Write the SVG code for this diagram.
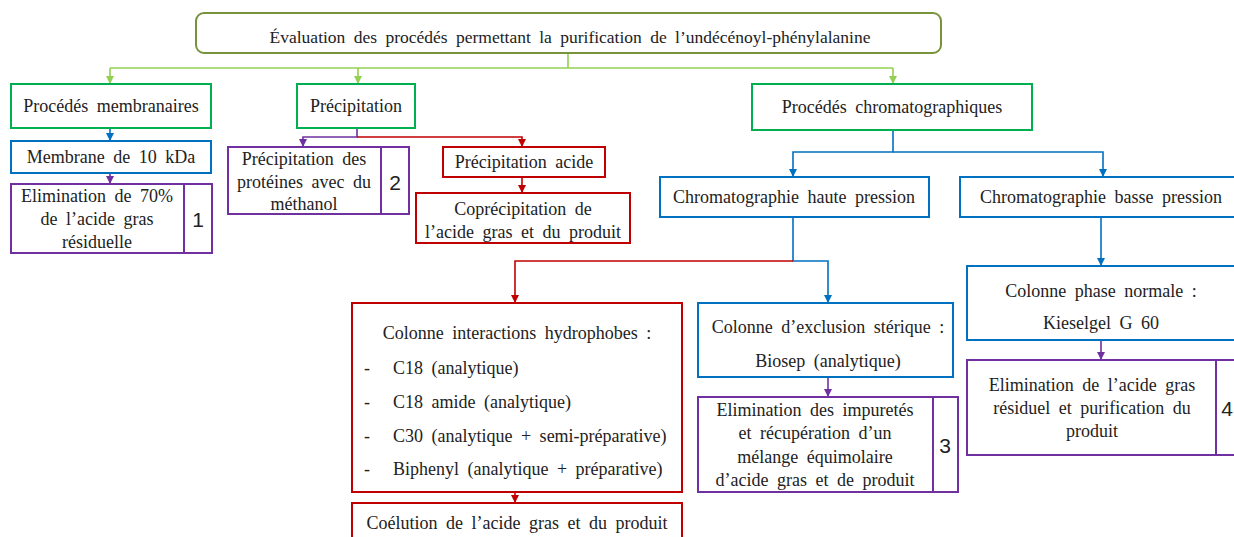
<svg xmlns="http://www.w3.org/2000/svg" width="1234" height="537" viewBox="0 0 1234 537">
<style>
text{font-family:"Liberation Serif","Times New Roman",serif;font-size:18px;fill:#222;word-spacing:4px}
.c{text-anchor:middle}
.t{font-size:17.5px;word-spacing:4px}
.num{font-family:"Liberation Sans",Arial,sans-serif;font-size:21px;text-anchor:middle}
.box{fill:#fff;stroke-width:2}
.g{stroke:#00B050}.b{stroke:#0070C0}.p{stroke:#7030A0}.r{stroke:#C00000}
.ln{fill:none;stroke-width:1.6}
</style>
<defs>
<marker id="aLg" viewBox="0 0 10 10" refX="10" refY="5" markerWidth="8" markerHeight="8" markerUnits="userSpaceOnUse" orient="auto"><path d="M0,0L10,5L0,10z" fill="#92D050"/></marker>
<marker id="aB" viewBox="0 0 10 10" refX="10" refY="5" markerWidth="8" markerHeight="8" markerUnits="userSpaceOnUse" orient="auto"><path d="M0,0L10,5L0,10z" fill="#0070C0"/></marker>
<marker id="aP" viewBox="0 0 10 10" refX="10" refY="5" markerWidth="8" markerHeight="8" markerUnits="userSpaceOnUse" orient="auto"><path d="M0,0L10,5L0,10z" fill="#7030A0"/></marker>
<marker id="aR" viewBox="0 0 10 10" refX="10" refY="5" markerWidth="8" markerHeight="8" markerUnits="userSpaceOnUse" orient="auto"><path d="M0,0L10,5L0,10z" fill="#C00000"/></marker>
</defs>
<rect width="1234" height="537" fill="#fff"/>

<g id="connectors">
<path class="ln" stroke="#92D050" d="M568,53V68"/>
<path class="ln" stroke="#92D050" d="M110,68H893"/>
<path class="ln" stroke="#92D050" d="M110,68V84" marker-end="url(#aLg)"/>
<path class="ln" stroke="#92D050" d="M358,68V84" marker-end="url(#aLg)"/>
<path class="ln" stroke="#92D050" d="M893,68V84" marker-end="url(#aLg)"/>
<path class="ln" stroke="#0070C0" d="M110,128V141" marker-end="url(#aB)"/>
<path class="ln" stroke="#7030A0" d="M110,173V184" marker-end="url(#aP)"/>
<path class="ln" stroke="#7030A0" d="M357,128V137H303V147" marker-end="url(#aP)"/>
<path class="ln" stroke="#C00000" d="M357,137H522V147" marker-end="url(#aR)"/>
<path class="ln" stroke="#C00000" d="M522,177V193" marker-end="url(#aR)"/>
<path class="ln" stroke="#0070C0" d="M893,130V152H793V177" marker-end="url(#aB)"/>
<path class="ln" stroke="#0070C0" d="M893,152H1103V177" marker-end="url(#aB)"/>
<path class="ln" stroke="#0070C0" d="M793,217V261H828V303" marker-end="url(#aB)"/>
<path class="ln" stroke="#C00000" d="M793,261H515V303" marker-end="url(#aR)"/>
<path class="ln" stroke="#C00000" d="M515,492V503" marker-end="url(#aR)"/>
<path class="ln" stroke="#7030A0" d="M828,377V397" marker-end="url(#aP)"/>
<path class="ln" stroke="#0070C0" d="M1101,217V266" marker-end="url(#aB)"/>
<path class="ln" stroke="#7030A0" d="M1101,340V360" marker-end="url(#aP)"/>
</g>

<g id="title">
<rect x="196" y="13" width="745" height="40" rx="8" fill="#fff" stroke="#77933C" stroke-width="2"/>
<text class="c t" x="570" y="43">Évaluation des procédés permettant la purification de l’undécénoyl-phénylalanine</text>
</g>

<g id="membranaires">
<rect class="box g" x="11" y="84" width="200" height="44"/>
<text class="c" x="111" y="112">Procédés membranaires</text>
</g>
<g id="membrane10">
<rect class="box b" x="11" y="141" width="200" height="32"/>
<text class="c" x="111" y="163">Membrane de 10 kDa</text>
</g>
<g id="elim70">
<rect class="box p" x="11" y="184" width="201" height="69"/>
<line class="p" x1="184" y1="184" x2="184" y2="253" stroke-width="2"/>
<text class="c" x="97" y="202">Elimination de 70%</text>
<text class="c" x="97" y="225">de l’acide gras</text>
<text class="c" x="97" y="248">résiduelle</text>
<text class="num" x="198" y="227">1</text>
</g>

<g id="precipitation">
<rect class="box g" x="297" y="84" width="118" height="44"/>
<text class="c" x="356" y="112">Précipitation</text>
</g>
<g id="precipProteines">
<rect class="box p" x="228" y="147" width="181" height="67"/>
<line class="p" x1="381" y1="147" x2="381" y2="214" stroke-width="2"/>
<text class="c" x="304" y="165">Précipitation des</text>
<text class="c" x="304" y="188">protéines avec du</text>
<text class="c" x="304" y="210">méthanol</text>
<text class="num" x="395" y="190">2</text>
</g>
<g id="precipAcide">
<rect class="box r" x="443" y="147" width="162" height="30"/>
<text class="c" x="524" y="168">Précipitation acide</text>
</g>
<g id="coprecip">
<rect class="box r" x="416" y="193" width="214" height="50"/>
<text class="c" x="523" y="215">Coprécipitation de</text>
<text class="c" x="523" y="238">l’acide gras et du produit</text>
</g>

<g id="chromato">
<rect class="box g" x="752" y="84" width="280" height="46"/>
<text class="c" x="892" y="113">Procédés chromatographiques</text>
</g>
<g id="hautePression">
<rect class="box b" x="660" y="177" width="269" height="40"/>
<text class="c" x="794" y="203">Chromatographie haute pression</text>
</g>
<g id="bassePression">
<rect class="box b" x="960" y="177" width="280" height="40"/>
<text class="c" x="1101" y="203">Chromatographie basse pression</text>
</g>
<g id="hydrophobes">
<rect class="box r" x="352" y="303" width="330" height="189"/>
<text class="c" x="517" y="339">Colonne interactions hydrophobes :</text>
<text x="364" y="374">-</text><text x="393" y="374">C18 (analytique)</text>
<text x="364" y="408">-</text><text x="393" y="408">C18 amide (analytique)</text>
<text x="364" y="442">-</text><text x="393" y="442">C30 (analytique + semi-préparative)</text>
<text x="364" y="475">-</text><text x="393" y="475">Biphenyl (analytique + préparative)</text>
</g>
<g id="coelution">
<rect class="box r" x="352" y="503" width="330" height="40"/>
<text class="c" x="517" y="529">Coélution de l’acide gras et du produit</text>
</g>
<g id="exclusion">
<rect class="box b" x="698" y="303" width="255" height="74"/>
<text class="c" x="828" y="333">Colonne d’exclusion stérique :</text>
<text class="c" x="828" y="367">Biosep (analytique)</text>
</g>
<g id="elimImpuretes">
<rect class="box p" x="698" y="397" width="260" height="95"/>
<line class="p" x1="933" y1="397" x2="933" y2="492" stroke-width="2"/>
<text class="c" x="815" y="416">Elimination des impuretés</text>
<text class="c" x="815" y="439">et récupération d’un</text>
<text class="c" x="815" y="463">mélange équimolaire</text>
<text class="c" x="815" y="486">d’acide gras et de produit</text>
<text class="num" x="945" y="453">3</text>
</g>
<g id="phaseNormale">
<rect class="box b" x="967" y="266" width="280" height="74"/>
<text class="c" x="1101" y="297">Colonne phase normale :</text>
<text class="c" x="1101" y="329">Kieselgel G 60</text>
</g>
<g id="elimResiduel">
<rect class="box p" x="967" y="360" width="280" height="95"/>
<line class="p" x1="1216" y1="360" x2="1216" y2="455" stroke-width="2"/>
<text class="c" x="1092" y="391">Elimination de l’acide gras</text>
<text class="c" x="1092" y="414">résiduel et purification du</text>
<text class="c" x="1092" y="437">produit</text>
<text class="num" x="1227" y="416">4</text>
</g>
</svg>
